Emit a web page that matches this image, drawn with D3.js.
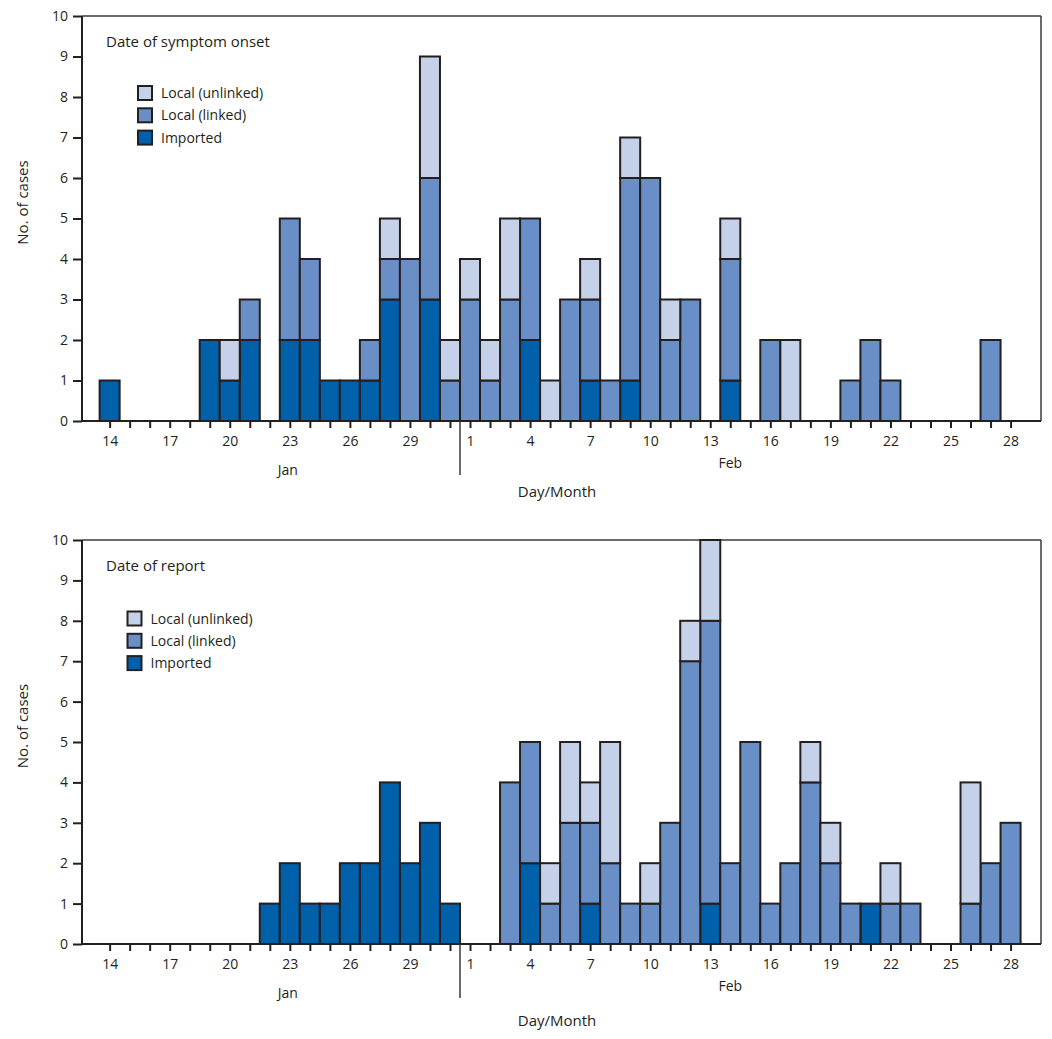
<!DOCTYPE html>
<html>
<head>
<meta charset="utf-8">
<script src="https://cdn.jsdelivr.net/npm/d3@7"></script>
<style>
  body { margin: 0; background: #fff; }
  svg { display: block; }
  text { font-family: "Open Sans", "Liberation Sans", sans-serif; fill: #231f20; }
</style>
</head>
<body>
<svg id="chart" width="1052" height="1039"></svg>
<script>
// ---- Data ----
const months = ["Jan", "Feb"];
// one entry per day, Jan 14 ... Feb 28
const dayLabels = [14,15,16,17,18,19,20,21,22,23,24,25,26,27,28,29,30,31,
                   1,2,3,4,5,6,7,8,9,10,11,12,13,14,15,16,17,18,19,20,21,22,23,24,25,26,27,28];
// tick labels shown under the axis (blank where no label)
const tickLabels = ["14","","","17","","","20","","","23","","","26","","","29","","",
                    "1","","","4","","","7","","","10","","","13","","","16","","","19","","","22","","","25","","","28"];
const seriesNames = ["Imported", "Local (linked)", "Local (unlinked)"];
const yTicks = [0,1,2,3,4,5,6,7,8,9,10];

// Date of symptom onset
const onsetImported = [1,0,0,0,0,2,1,2,0,2,2,1,1,1,3,0,3,0,
                       0,0,0,2,0,0,1,0,1,0,0,0,0,1,0,0,0,0,0,0,0,0,0,0,0,0,0,0];
const onsetLinked   = [0,0,0,0,0,0,0,1,0,3,2,0,0,1,1,4,3,1,
                       3,1,3,3,0,3,2,1,5,6,2,3,0,3,0,2,0,0,0,1,2,1,0,0,0,0,2,0];
const onsetUnlinked = [0,0,0,0,0,0,1,0,0,0,0,0,0,0,1,0,3,1,
                       1,1,2,0,1,0,1,0,1,0,1,0,0,1,0,0,2,0,0,0,0,0,0,0,0,0,0,0];

// Date of report
const reportImported = [0,0,0,0,0,0,0,0,1,2,1,1,2,2,4,2,3,1,
                        0,0,0,2,0,0,1,0,0,0,0,0,1,0,0,0,0,0,0,0,1,0,0,0,0,0,0,0];
const reportLinked   = [0,0,0,0,0,0,0,0,0,0,0,0,0,0,0,0,0,0,
                        0,0,4,3,1,3,2,2,1,1,3,7,7,2,5,1,2,4,2,1,0,1,1,0,0,1,2,3];
const reportUnlinked = [0,0,0,0,0,0,0,0,0,0,0,0,0,0,0,0,0,0,
                        0,0,0,0,1,2,1,3,0,1,0,1,2,0,0,0,0,1,1,0,0,1,0,0,0,3,0,0];

const colors = { "Imported": "#0060aa", "Local (linked)": "#6a8fc7", "Local (unlinked)": "#c5d1e8" };
const strokeCol = "#231f20";

const svg = d3.select("#chart");

function drawPanel(cfg) {
  const { top, bottom, title, series, legendX, legendY } = cfg;
  const left = 82, right = 1041;
  const x = d3.scaleLinear().domain([-1.38, 46.52]).range([left, right]);
  const y = d3.scaleLinear().domain([0, 10]).range([bottom, top]);
  const g = svg.append("g");

  const rows = dayLabels.map((d, i) => ({
    i,
    "Imported": series[0][i],
    "Local (linked)": series[1][i],
    "Local (unlinked)": series[2][i]
  }));
  const stack = d3.stack().keys(seriesNames)(rows);

  // frame: top and right
  g.append("line").attr("x1", left).attr("x2", right).attr("y1", top).attr("y2", top)
    .attr("stroke", "#3a3a3a").attr("stroke-width", 1.5);
  g.append("line").attr("x1", right).attr("x2", right).attr("y1", top).attr("y2", bottom)
    .attr("stroke", "#3a3a3a").attr("stroke-width", 1.5);

  // bars
  stack.forEach(layer => {
    g.append("g").selectAll("rect")
      .data(layer.filter(d => d[1] - d[0] > 0))
      .join("rect")
      .attr("x", d => x(d.data.i - 0.5))
      .attr("width", d => x(d.data.i + 0.5) - x(d.data.i - 0.5))
      .attr("y", d => y(d[1]))
      .attr("height", d => y(d[0]) - y(d[1]))
      .attr("fill", colors[layer.key])
      .attr("stroke", strokeCol)
      .attr("stroke-width", 2);
  });

  // x axis
  const xAxis = d3.axisBottom(x)
    .tickValues(d3.range(dayLabels.length))
    .tickSize(7)
    .tickFormat(i => tickLabels[i]);
  const xg = g.append("g").attr("transform", `translate(0,${bottom})`).call(xAxis);
  xg.select(".domain").attr("stroke", strokeCol).attr("stroke-width", 2)
    .attr("d", `M${left},0H${right}`);
  xg.selectAll(".tick line").attr("stroke", strokeCol).attr("stroke-width", 2);
  xg.selectAll(".tick text")
    .attr("y", 15)
    .style("font-size", "14px")
    .style("font-family", "'Open Sans', sans-serif")
    .attr("fill", strokeCol);

  // month divider
  g.append("line").attr("x1", x(17.5)).attr("x2", x(17.5))
    .attr("y1", bottom).attr("y2", bottom + 54)
    .attr("stroke", "#3a3a3a").attr("stroke-width", 1.5);

  // month labels
  g.append("text").attr("x", x(9) - 2).attr("y", bottom + 54).attr("text-anchor", "middle")
    .style("font-size", "14px").text(months[0]);
  g.append("text").attr("x", x(31)).attr("y", bottom + 47).attr("text-anchor", "middle")
    .style("font-size", "14px").text(months[1]);
  g.append("text").attr("x", 557).attr("y", bottom + cfg.dmOffset).attr("text-anchor", "middle")
    .style("font-size", "15px").text("Day/Month");

  // y axis
  const yAxis = d3.axisLeft(y).tickValues(yTicks).tickSize(9).tickFormat(d3.format("d"));
  const yg = g.append("g").attr("transform", `translate(${left},0)`).call(yAxis);
  yg.select(".domain").attr("stroke", strokeCol).attr("stroke-width", 2)
    .attr("d", `M0,${bottom}V${top}`);
  yg.selectAll(".tick line").attr("stroke", strokeCol).attr("stroke-width", 2);
  yg.selectAll(".tick text").attr("x", -14).style("font-size", "14px")
    .style("font-family", "'Open Sans', sans-serif").attr("fill", strokeCol);

  g.append("text")
    .attr("transform", `translate(28,${(top + bottom) / 2 - 16}) rotate(-90)`)
    .attr("text-anchor", "middle")
    .style("font-size", "15px")
    .text("No. of cases");

  // title
  g.append("text").attr("x", 106).attr("y", top + 31).style("font-size", "15px").text(title);

  // legend
  const legendOrder = ["Local (unlinked)", "Local (linked)", "Imported"];
  const lg = g.append("g").attr("transform", `translate(${legendX},${legendY})`);
  legendOrder.forEach((k, j) => {
    lg.append("rect").attr("x", 0).attr("y", j * 22.3 - 7).attr("width", 14).attr("height", 14)
      .attr("fill", colors[k]).attr("stroke", strokeCol).attr("stroke-width", 2);
    lg.append("text").attr("x", 23).attr("y", j * 22.3 + 5).style("font-size", "14px").text(k);
  });
}

drawPanel({
  top: 16, bottom: 421, title: "Date of symptom onset",
  series: [onsetImported, onsetLinked, onsetUnlinked],
  legendX: 138, legendY: 93, dmOffset: 76
});
drawPanel({
  top: 540, bottom: 944, title: "Date of report",
  series: [reportImported, reportLinked, reportUnlinked],
  legendX: 127.5, legendY: 618.5, dmOffset: 82
});
</script>
</body>
</html>
